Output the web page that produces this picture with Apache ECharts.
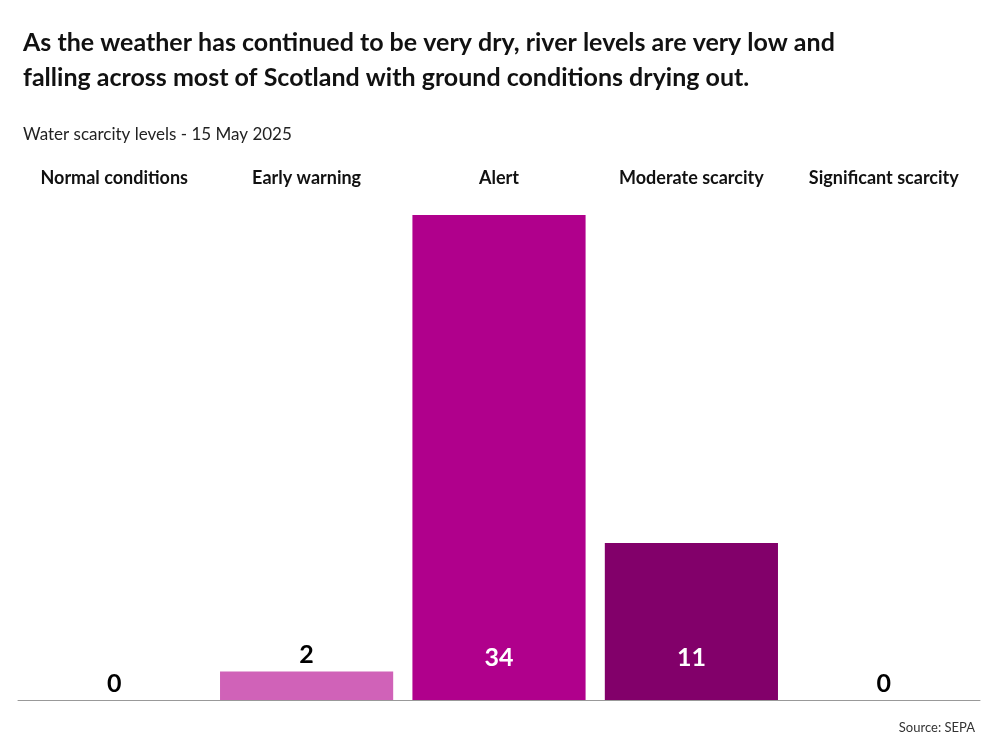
<!DOCTYPE html>
<html><head><meta charset="utf-8">
<script src="https://cdn.jsdelivr.net/npm/echarts@6/dist/echarts.min.js"></script>
<style>html,body{margin:0;background:#fff}#c{width:1000px;height:750px}</style>
</head><body><div id="c"></div>
<script>
const categories = ["Normal conditions","Early warning","Alert","Moderate scarcity","Significant scarcity"];
const values = [0,2,34,11,0];
const colors = ["#d062b8","#d062b8","#b0008c","#82006a","#82006a"];
const labelColors = ["#000","#000","#fff","#fff","#000"];
const labelInside = [false,false,true,true,false];
const F = "Lato, 'Noto Sans', sans-serif";
const chart = echarts.init(document.getElementById('c'));
chart.setOption({
  animation:false,
  textStyle:{fontFamily:F},
  title:[
    {text:"As the weather has continued to be very dry, river levels are very low and\nfalling across most of Scotland with ground conditions drying out.",left:18,top:20,textStyle:{fontFamily:F,fontSize:25,fontWeight:'bold',color:'#111',lineHeight:35}},
    {text:"Water scarcity levels - 15 May 2025",left:18,top:121,textStyle:{fontFamily:F,fontSize:17,fontWeight:'normal',color:'#222'}},
    {text:"Source: SEPA",right:20,top:716,textStyle:{fontFamily:F,fontSize:13,fontWeight:'normal',color:'#333'}}
  ],
  grid:{left:18,right:20,top:215,bottom:50},
  xAxis:[
    {type:'category',data:categories,position:'bottom',axisLine:{lineStyle:{color:'#999'}},axisTick:{show:false},axisLabel:{show:false}},
    {type:'category',data:categories,position:'top',offset:20,axisLine:{show:false},axisTick:{show:false},axisLabel:{fontSize:18,fontWeight:'bold',color:'#111',interval:0}}
  ],
  yAxis:{type:'value',min:0,max:34,show:false},
  series:[{type:'bar',barCategoryGap:'10%',
    data:values.map((v,i)=>({value:v,itemStyle:{color:colors[i]},
      label:{show:true,position:labelInside[i]?'insideBottom':'top',distance:labelInside[i]?30:4,color:labelColors[i],fontSize:25,fontWeight:'bold'}}))
  }]
});
</script></body></html>
